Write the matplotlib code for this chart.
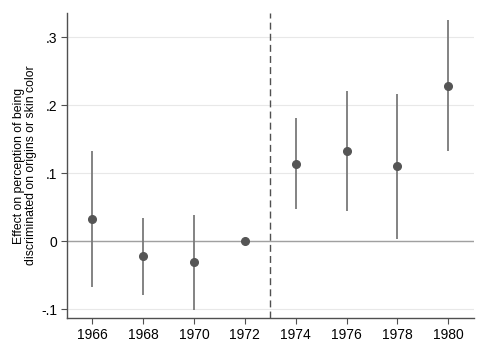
import numpy as np
import matplotlib
matplotlib.use('Agg')
import matplotlib.pyplot as plt

plt.rcParams['font.family'] = ['Liberation Sans', 'DejaVu Sans']

# data
years = [1966, 1968, 1970, 1972, 1974, 1976, 1978, 1980]
coef = [0.032, -0.0225, -0.031, 0.0, 0.114, 0.132, 0.110, 0.228]
ci_low = [-0.068, -0.079, -0.101, 0.0, 0.047, 0.044, 0.003, 0.132]
ci_high = [0.132, 0.034, 0.039, 0.0, 0.181, 0.221, 0.216, 0.325]
yticks = [-0.1, 0, 0.1, 0.2, 0.3]
ytick_labels = ['-.1', '0', '.1', '.2', '.3']
reform_year = 1973

fig = plt.figure(figsize=(4.87, 3.54), dpi=100)
ax = fig.add_axes([0.1376, 0.1017, 0.835, 0.861])

# grid and reference lines
for yv in yticks:
    ax.axhline(yv, color='#e8e8e8', lw=0.8, zorder=0)
ax.axhline(0, color='#a0a0a0', lw=1.0, zorder=1)
ax.axvline(reform_year, color='#505050', lw=1.0, ls=(0, (5, 3)), zorder=1)

# confidence intervals and point estimates
ax.vlines(years, ci_low, ci_high, color='#7a7a7a', lw=1.3, zorder=2)
ax.plot(years, coef, 'o', color='#555555', ms=5.5, zorder=3)

ax.set_xlim(1965, 1981)
ax.set_ylim(-0.113, 0.335)
ax.set_xticks(years)
ax.set_yticks(yticks)
ax.set_yticklabels(ytick_labels)
ax.tick_params(labelsize=10, color='#505050', length=4)
ax.tick_params(axis='y', pad=3)

for s in ['top', 'right']:
    ax.spines[s].set_visible(False)
for s in ['left', 'bottom']:
    ax.spines[s].set_color('#505050')
    ax.spines[s].set_linewidth(1.0)

ax.set_ylabel('Effect on perception of being\ndiscriminated on origins or skin color', fontsize=8.8, labelpad=3, linespacing=1.05)

fig.savefig('out.png', dpi=100)
